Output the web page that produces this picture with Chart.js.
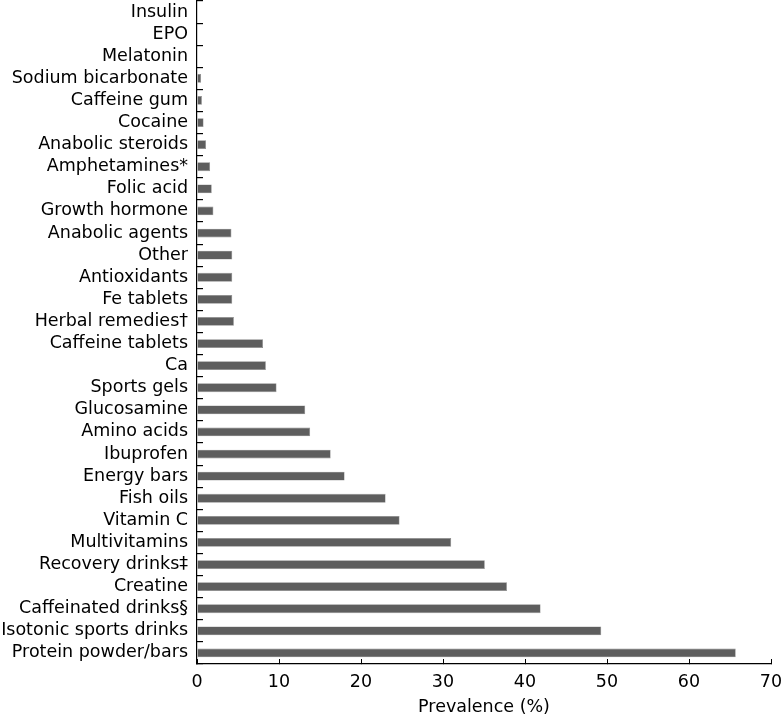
<!DOCTYPE html>
<html>
<head>
<meta charset="utf-8">
<script src="https://cdn.jsdelivr.net/npm/chart.js@4/dist/chart.umd.min.js"></script>
<style>
  html, body { margin: 0; padding: 0; background: #fff; }
  #wrap { width: 782px; height: 722px; }
</style>
</head>
<body>
<div id="wrap"><canvas id="grafico" width="782" height="722"></canvas></div>
<script>
// categorias de cima para baixo
var categorias = [
    'Insulin', 'EPO', 'Melatonin', 'Sodium bicarbonate', 'Caffeine gum',
    'Cocaine', 'Anabolic steroids', 'Amphetamines*', 'Folic acid', 'Growth hormone',
    'Anabolic agents', 'Other', 'Antioxidants', 'Fe tablets', 'Herbal remedies\u2020',
    'Caffeine tablets', 'Ca', 'Sports gels', 'Glucosamine', 'Amino acids',
    'Ibuprofen', 'Energy bars', 'Fish oils', 'Vitamin C', 'Multivitamins',
    'Recovery drinks\u2021', 'Creatine', 'Caffeinated drinks\u00a7', 'Isotonic sports drinks', 'Protein powder/bars'
];

// prevalencia (%)
var prevalencia = [
    0, 0, 0, 0.5, 0.6,
    0.8, 1.1, 1.6, 1.8, 2.0,
    4.2, 4.3, 4.3, 4.3, 4.5,
    8.05, 8.4, 9.7, 13.2, 13.8,
    16.3, 18.0, 23.0, 24.7, 31.0,
    35.1, 37.8, 41.9, 49.3, 65.7
];

var ticksX = [0, 10, 20, 30, 40, 50, 60, 70];

var fonte = { family: '"DejaVu Sans", sans-serif', size: 17.5 };

var ctx = document.getElementById('grafico').getContext('2d');

new Chart(ctx, {
    type: 'bar',
    data: {
        labels: categorias,
        datasets: [
            {
                label: 'Prevalence (%)',
                data: prevalencia,
                backgroundColor: '#5e5e5e',
                borderColor: '#8a8a8a',
                borderWidth: 0.6,
                barPercentage: 0.4,
                categoryPercentage: 1
            }
        ]
    },
    options: {
        indexAxis: 'y',
        responsive: false,
        animation: false,
        layout: { padding: { top: 1, right: 11, bottom: 0, left: 0 } },
        plugins: {
            legend: { display: false },
            tooltip: { enabled: false }
        },
        scales: {
            x: {
                min: 0,
                max: 70,
                afterBuildTicks: function (scale) {
                    scale.ticks = ticksX.map(function (v) { return { value: v }; });
                },
                afterFit: function (scale) {
                    scale.height = 58;
                    scale.paddingLeft = 0;
                    scale.paddingRight = 0;
                },
                grid: { drawOnChartArea: false, tickLength: -5, color: '#000', lineWidth: 1 },
                border: { color: '#000', width: 1.2 },
                ticks: { color: '#000', font: fonte, padding: 13, maxRotation: 0 },
                title: {
                    display: true,
                    text: 'Prevalence (%)',
                    color: '#000',
                    font: fonte,
                    padding: { top: 0, bottom: 4 }
                }
            },
            y: {
                afterFit: function (scale) {
                    scale.width = 197;
                    scale.paddingTop = 0;
                    scale.paddingBottom = 0;
                },
                grid: { drawOnChartArea: false, offset: true, tickLength: -6, color: '#000', lineWidth: 1.2 },
                border: { color: '#000', width: 1.2 },
                ticks: { color: '#000', font: fonte, padding: 15, autoSkip: false }
            }
        }
    }
});
</script>
</body>
</html>
